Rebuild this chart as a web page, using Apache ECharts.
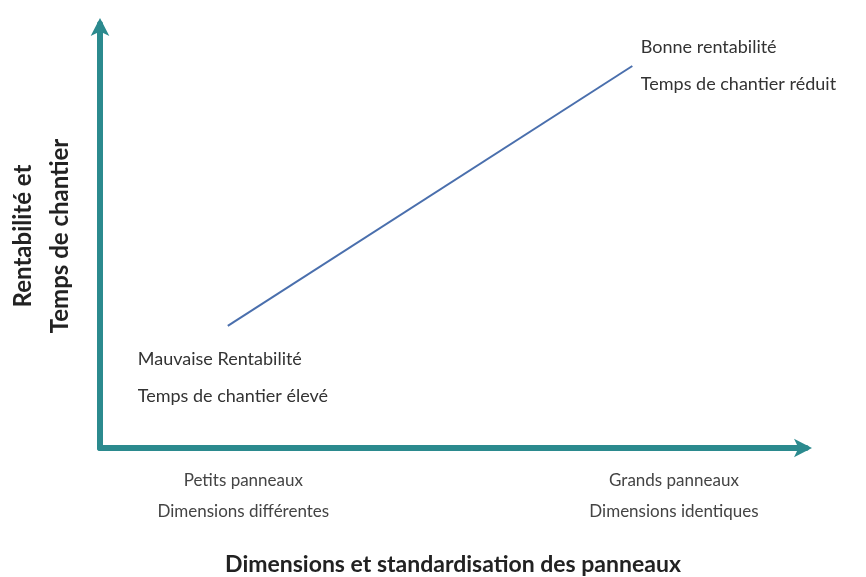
<!DOCTYPE html>
<html>
<head>
<meta charset="utf-8">
<script src="https://cdn.jsdelivr.net/npm/echarts@6/dist/echarts.min.js"></script>
<style>html,body{margin:0;padding:0;background:#fff;}#c{width:866px;height:577px;}</style>
</head>
<body>
<div id="c"></div>
<script>
// Conceptual line: x = dimensions/standardisation, y = rentabilité
const lineX = [18.1, 75.4];
const lineY = [28.8, 90.1];
const pointLabels = ['Mauvaise Rentabilité\nTemps de chantier élevé', 'Bonne rentabilité\nTemps de chantier réduit'];
const xTickValues = [20.3, 81.3];
const xTickLabels = ['Petits panneaux\nDimensions différentes', 'Grands panneaux\nDimensions identiques'];
const xAxisName = 'Dimensions et standardisation des panneaux';
const yAxisName = 'Rentabilité et\nTemps de chantier';

const font = 'Lato, "Open Sans", sans-serif';
const axisColor = '#2b8a8e';

const chart = echarts.init(document.getElementById('c'), null, {renderer: 'canvas'});
chart.setOption({
  backgroundColor: '#ffffff',
  animation: false,
  grid: {left: 100, right: 60, top: 24, bottom: 129, outerBoundsMode: 'none', containLabel: false},
  xAxis: {
    type: 'value', min: 0, max: 100,
    splitLine: {show: false},
    axisTick: {show: false},
    axisLine: {show: true, lineStyle: {color: axisColor, width: 6}, symbol: ['none', 'arrow'], symbolSize: [14, 18], symbolOffset: [0, 6]},
    axisLabel: {
      customValues: xTickValues,
      formatter: (v) => { const i = xTickValues.indexOf(v); return i >= 0 ? xTickLabels[i] : ''; },
      color: '#444', fontFamily: font, fontSize: 17, lineHeight: 31, margin: 17
    },
    name: xAxisName, nameLocation: 'middle', nameGap: 105,
    nameTextStyle: {fontFamily: font, fontWeight: 'bold', fontSize: 23, color: '#222'}
  },
  yAxis: {
    type: 'value', min: 0, max: 100,
    splitLine: {show: false},
    axisTick: {show: false},
    axisLabel: {show: false},
    axisLine: {show: true, lineStyle: {color: axisColor, width: 6}, symbol: ['none', 'arrow'], symbolSize: [14, 18], symbolOffset: [0, 6]},
    name: yAxisName, nameLocation: 'middle', nameRotate: 90, nameGap: 21,
    nameTextStyle: {fontFamily: font, fontWeight: 'bold', fontSize: 24, color: '#222', lineHeight: 37}
  },
  series: [{
    type: 'line',
    data: [
      {value: [lineX[0], lineY[0]], label: {position: 'bottom', offset: [-90, 14], distance: 0}},
      {value: [lineX[1], lineY[1]], label: {position: 'right', offset: [8, 0], distance: 0}}
    ],
    showSymbol: true, symbol: 'circle', symbolSize: 1,
    itemStyle: {color: 'rgba(0,0,0,0)', borderWidth: 0},
    lineStyle: {color: '#4a6fad', width: 2},
    label: {
      show: true,
      formatter: (p) => pointLabels[p.dataIndex],
      fontFamily: font, fontSize: 18, lineHeight: 37, color: '#333', align: 'left'
    },
    emphasis: {disabled: true}
  }]
});
</script>
</body>
</html>
